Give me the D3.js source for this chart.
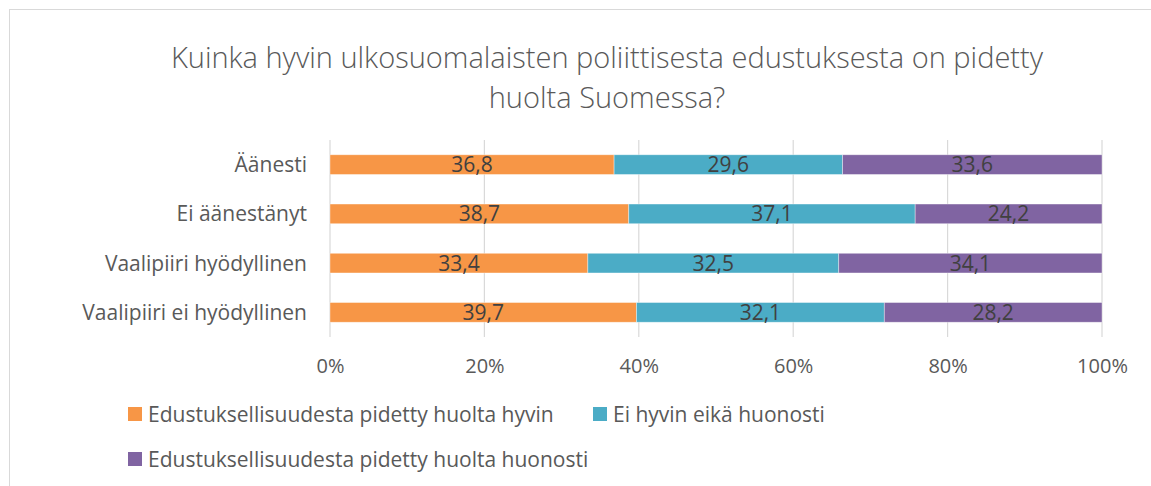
<!DOCTYPE html>
<html>
<head>
<meta charset="utf-8">
<script src="https://cdn.jsdelivr.net/npm/d3@7"></script>
<style>
  html, body { margin: 0; padding: 0; background: #fff; }
  svg { display: block; font-family: 'Open Sans', sans-serif; }
</style>
</head>
<body>
<svg id="chart"></svg>
<script>
const categories = [
  'Äänesti',
  'Ei äänestänyt',
  'Vaalipiiri hyödyllinen',
  'Vaalipiiri ei hyödyllinen',
];

const seriesNames = [
  'Edustuksellisuudesta pidetty huolta hyvin',
  'Ei hyvin eikä huonosti',
  'Edustuksellisuudesta pidetty huolta huonosti',
];

const seriesColors = ['#F79646', '#4BACC6', '#8064A2'];

const good = [36.8, 38.7, 33.4, 39.7];
const neutral = [29.6, 37.1, 32.5, 32.1];
const bad = [33.6, 24.2, 34.1, 28.2];

const xTicks = [0, 20, 40, 60, 80, 100];

const titleLines = [
  'Kuinka hyvin ulkosuomalaisten poliittisesta edustuksesta on pidetty',
  'huolta Suomessa?',
];

const W = 1151;
const H = 486;

const svg = d3.select('#chart').attr('width', W).attr('height', H);

// chart frame
svg.append('rect')
  .attr('x', 9.5)
  .attr('y', 9.5)
  .attr('width', W + 10)
  .attr('height', H + 10)
  .attr('fill', '#fff')
  .attr('stroke', '#d9d9d9')
  .attr('stroke-width', 1);

// title
svg.append('g')
  .selectAll('text')
  .data(titleLines)
  .join('text')
  .attr('x', 607)
  .attr('y', (d, i) => 68 + i * 40)
  .attr('text-anchor', 'middle')
  .attr('fill', '#595959')
  .attr('font-size', 29)
  .attr('font-weight', 300)
  .text((d) => d);

const plot = { left: 330, right: 1102, top: 140, bottom: 337 };

const x = d3.scaleLinear().domain([0, 100]).range([plot.left, plot.right]);

const y = d3
  .scaleBand()
  .domain(categories)
  .range([plot.top, plot.bottom])
  .paddingInner(0.6)
  .paddingOuter(0.3);

// grid
svg.append('g')
  .selectAll('line')
  .data(xTicks)
  .join('line')
  .attr('x1', (d) => x(d))
  .attr('x2', (d) => x(d))
  .attr('y1', plot.top)
  .attr('y2', plot.bottom)
  .attr('stroke', '#d9d9d9')
  .attr('stroke-width', 1.2);

// stacked data
const rows = categories.map((c, i) => ({
  cat: c,
  v0: good[i],
  v1: neutral[i],
  v2: bad[i],
}));

const stack = d3.stack().keys(['v0', 'v1', 'v2']);
const layers = stack(rows);

const layerG = svg.append('g')
  .selectAll('g')
  .data(layers)
  .join('g')
  .attr('fill', (d, i) => seriesColors[i]);

layerG.selectAll('rect')
  .data((d) => d)
  .join('rect')
  .attr('x', (d) => x(d[0]))
  .attr('y', (d) => y(d.data.cat))
  .attr('width', (d) => x(d[1]) - x(d[0]))
  .attr('height', y.bandwidth())
  .attr('stroke', '#fff')
  .attr('stroke-opacity', 0.5)
  .attr('stroke-width', 0.75);

layerG.selectAll('text')
  .data((d) => d.map((p) => ({ p, key: d.key })))
  .join('text')
  .attr('x', (d) => (x(d.p[0]) + x(d.p[1])) / 2)
  .attr('y', (d) => y(d.p.data.cat) + y.bandwidth() / 2)
  .attr('dy', '0.36em')
  .attr('text-anchor', 'middle')
  .attr('fill', '#404040')
  .attr('font-size', 21)
  .text((d) => d3.format('.1f')(d.p.data[d.key]).replace('.', ','));

// category axis
svg.append('g')
  .selectAll('text')
  .data(categories)
  .join('text')
  .attr('x', 307)
  .attr('y', (d) => y(d) + y.bandwidth() / 2)
  .attr('dy', '0.36em')
  .attr('text-anchor', 'end')
  .attr('fill', '#595959')
  .attr('font-size', 21)
  .text((d) => d);

// value axis
const xAxis = svg.append('g')
  .attr('transform', `translate(0, ${plot.bottom})`)
  .call(
    d3.axisBottom(x)
      .tickValues(xTicks)
      .tickSize(0)
      .tickPadding(22)
      .tickFormat((d) => `${d}%`),
  )
  .attr('font-family', null)
  .attr('font-size', null);
xAxis.select('.domain').remove();
xAxis.selectAll('text')
  .attr('fill', '#595959')
  .attr('font-size', 20);

// legend
const legendPos = [
  { x: 128, y: 414 },
  { x: 593, y: 414 },
  { x: 128, y: 459 },
];

const legend = svg.append('g')
  .selectAll('g')
  .data(seriesNames)
  .join('g')
  .attr('transform', (d, i) => `translate(${legendPos[i].x}, ${legendPos[i].y})`);

legend.append('rect')
  .attr('x', 0)
  .attr('y', -7)
  .attr('width', 14)
  .attr('height', 14)
  .attr('fill', (d, i) => seriesColors[i]);

legend.append('text')
  .attr('x', 20)
  .attr('y', 0)
  .attr('dy', '0.36em')
  .attr('fill', '#595959')
  .attr('font-size', 21)
  .text((d) => d);
</script>
</body>
</html>
